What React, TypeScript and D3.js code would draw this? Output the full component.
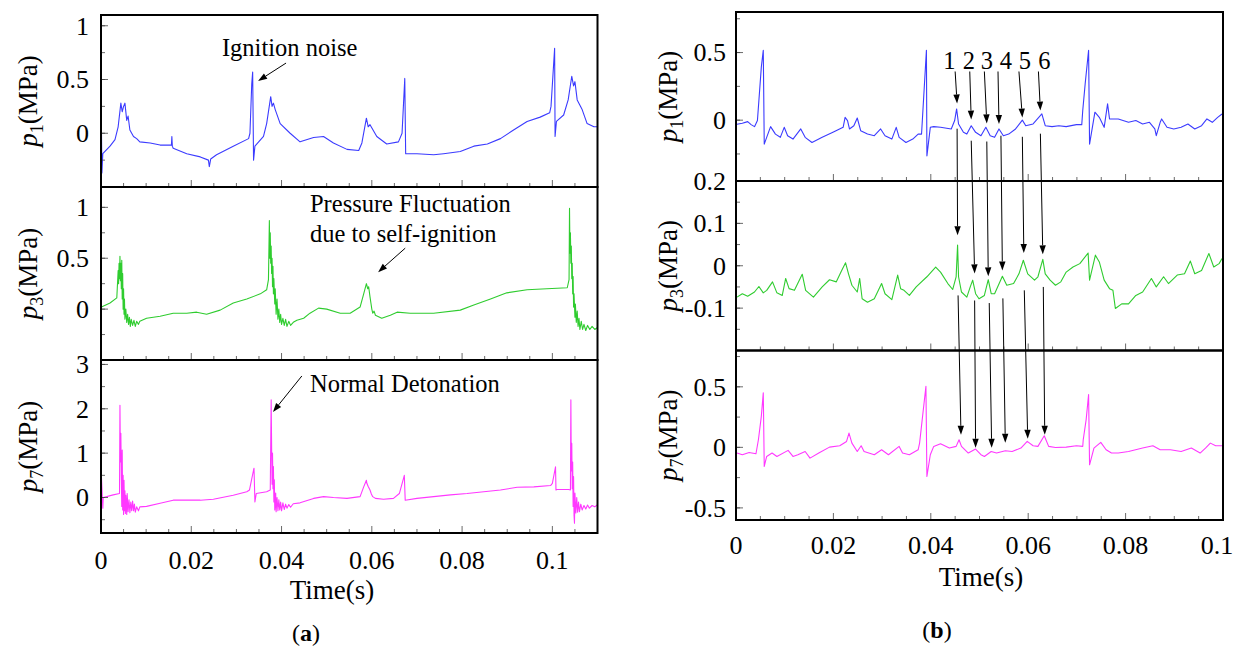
import React, { useEffect } from 'react';
import * as d3 from 'd3';

type Pt = [number, number];

// ---------- (a) left panel series: [time (s), pressure (MPa)] ----------
const p1A: Pt[] = [[0.0000,0.46],[0.0002,-0.37],[0.0004,-0.19],[0.0020,-0.12],[0.0031,-0.06],[0.0038,0.06],[0.0044,0.28],[0.0047,0.20],[0.0050,0.25],[0.0053,0.28],[0.0057,0.12],[0.0060,0.16],[0.0064,0.03],[0.0072,-0.03],[0.0079,-0.05],[0.0086,-0.08],[0.0109,-0.09],[0.0131,-0.11],[0.0156,-0.11],[0.0157,-0.03],[0.0158,-0.12],[0.0160,-0.14],[0.0190,-0.19],[0.0220,-0.22],[0.0238,-0.25],[0.0240,-0.31],[0.0243,-0.24],[0.0256,-0.20],[0.0293,-0.12],[0.0327,-0.05],[0.0330,0],[0.0334,0.46],[0.0336,0.57],[0.0338,-0.25],[0.0341,-0.12],[0.0360,-0.03],[0.0367,0.09],[0.0376,0.34],[0.0379,0.25],[0.0382,0.28],[0.0386,0.22],[0.0397,0.09],[0.0419,0],[0.0441,-0.08],[0.0471,-0.04],[0.0493,-0.03],[0.0515,-0.09],[0.0545,-0.15],[0.0571,-0.16],[0.0578,-0.09],[0.0588,0.14],[0.0592,0.06],[0.0596,0.08],[0.0611,-0.03],[0.0633,-0.10],[0.0659,-0.08],[0.0667,0.0],[0.0673,0.51],[0.0675,-0.19],[0.0700,-0.19],[0.0737,-0.20],[0.0759,-0.19],[0.0796,-0.17],[0.0826,-0.12],[0.0856,-0.10],[0.0885,-0.05],[0.0914,0.03],[0.0944,0.11],[0.0973,0.15],[0.0994,0.19],[0.0997,0.25],[0.1005,0.79],[0.1006,-0.03],[0.1009,0.11],[0.1025,0.17],[0.1035,0.31],[0.1043,0.53],[0.1047,0.44],[0.1050,0.48],[0.1055,0.31],[0.1066,0.22],[0.1077,0.09],[0.1092,0.06],[0.1100,0.06]];

const p3A: Pt[] = [[0.0001,0.02],[0.0020,0.06],[0.0035,0.11],[0.0038,0.38],[0.0039,0.25],[0.0040,0.45],[0.0041,0.3],[0.0042,0.52],[0.0043,0.28],[0.0044,0.45],[0.0045,0.2],[0.0046,0.48],[0.0047,0.1],[0.0048,0.35],[0.0049,0.0],[0.0050,0.2],[0.0051,-0.05],[0.0052,0.1],[0.0053,-0.1],[0.0055,0.0],[0.0057,-0.13],[0.0059,-0.05],[0.0061,-0.15],[0.0063,-0.08],[0.0065,-0.17],[0.0067,-0.1],[0.0070,-0.16],[0.0073,-0.11],[0.0076,-0.17],[0.0079,-0.12],[0.0083,-0.15],[0.0086,-0.12],[0.0101,-0.09],[0.0131,-0.07],[0.0160,-0.04],[0.0190,-0.04],[0.0212,-0.03],[0.0234,-0.05],[0.0264,-0.01],[0.0293,0.06],[0.0323,0.10],[0.0353,0.15],[0.0367,0.19],[0.0371,0.29],[0.0373,0.87],[0.0374,0.5],[0.0375,0.75],[0.0376,0.45],[0.0377,0.62],[0.0378,0.35],[0.0379,0.5],[0.0380,0.22],[0.0381,0.42],[0.0382,0.15],[0.0383,0.30],[0.0385,0.05],[0.0386,0.2],[0.0388,-0.05],[0.0390,0.1],[0.0392,-0.1],[0.0394,0.0],[0.0396,-0.13],[0.0398,-0.05],[0.0400,-0.15],[0.0403,-0.09],[0.0406,-0.16],[0.0409,-0.1],[0.0412,-0.17],[0.0416,-0.12],[0.0420,-0.16],[0.0426,-0.13],[0.0434,-0.11],[0.0449,-0.09],[0.0463,-0.04],[0.0482,0.01],[0.0500,0.0],[0.0530,-0.04],[0.0552,-0.04],[0.0574,0.02],[0.0582,0.15],[0.0588,0.25],[0.0591,0.20],[0.0593,0.22],[0.0596,0.12],[0.0598,0.06],[0.0600,0.0],[0.0602,-0.04],[0.0605,-0.02],[0.0608,-0.06],[0.0622,-0.09],[0.0641,-0.06],[0.0656,-0.03],[0.0685,-0.04],[0.0737,-0.04],[0.0796,-0.01],[0.0826,0.04],[0.0863,0.10],[0.0899,0.16],[0.0944,0.19],[0.0988,0.20],[0.1033,0.21],[0.1037,0.29],[0.1038,0.99],[0.1039,0.55],[0.1040,0.75],[0.1041,0.45],[0.1042,0.62],[0.1043,0.3],[0.1044,0.45],[0.1045,0.15],[0.1046,0.32],[0.1047,0.02],[0.1048,0.15],[0.1050,-0.08],[0.1051,0.05],[0.1053,-0.13],[0.1055,-0.02],[0.1057,-0.17],[0.1059,-0.09],[0.1061,-0.2],[0.1064,-0.12],[0.1067,-0.2],[0.1070,-0.15],[0.1074,-0.21],[0.1078,-0.16],[0.1083,-0.2],[0.1088,-0.17],[0.1094,-0.2],[0.1100,-0.18]];

const p7A: Pt[] = [[0.0001,0.47],[0.0004,-0.24],[0.0005,0.0],[0.0027,0.06],[0.0041,0.09],[0.0042,2.08],[0.0043,0.8],[0.0044,1.45],[0.0045,0.47],[0.0046,-0.2],[0.0047,1.07],[0.0048,-0.28],[0.0049,0.5],[0.0050,-0.38],[0.0051,0.39],[0.0052,-0.3],[0.0053,0.15],[0.0054,-0.36],[0.0055,0.05],[0.0057,-0.38],[0.0058,0.09],[0.0060,-0.32],[0.0062,-0.05],[0.0064,-0.34],[0.0066,-0.1],[0.0068,-0.30],[0.0070,-0.08],[0.0072,-0.30],[0.0074,-0.15],[0.0076,-0.33],[0.0079,-0.21],[0.0083,-0.30],[0.0086,-0.21],[0.0101,-0.20],[0.0131,-0.13],[0.0160,-0.06],[0.0190,-0.06],[0.0220,-0.06],[0.0249,-0.04],[0.0293,0.05],[0.0323,0.13],[0.0329,0.17],[0.0338,0.62],[0.0339,0.66],[0.0341,-0.10],[0.0344,0.09],[0.0367,0.13],[0.0375,0.17],[0.0377,2.20],[0.0378,1.15],[0.0379,0.3],[0.0380,1.0],[0.0381,0.2],[0.0382,0.7],[0.0383,-0.1],[0.0384,0.4],[0.0385,-0.28],[0.0387,0.1],[0.0388,-0.32],[0.0390,0.0],[0.0392,-0.30],[0.0394,-0.05],[0.0396,-0.28],[0.0398,-0.1],[0.0400,-0.30],[0.0403,-0.12],[0.0406,-0.27],[0.0409,-0.15],[0.0412,-0.24],[0.0416,-0.16],[0.0420,-0.22],[0.0426,-0.14],[0.0441,-0.12],[0.0471,-0.02],[0.0493,0.02],[0.0515,0.0],[0.0545,-0.02],[0.0574,0.02],[0.0582,0.24],[0.0588,0.39],[0.0589,0.32],[0.0592,0.25],[0.0596,0.17],[0.0599,0.08],[0.0602,0.02],[0.0608,-0.02],[0.0626,-0.04],[0.0648,-0.02],[0.0661,0.09],[0.0672,0.50],[0.0674,-0.06],[0.0700,-0.02],[0.0737,0.02],[0.0774,0.06],[0.0811,0.09],[0.0848,0.13],[0.0885,0.17],[0.0922,0.23],[0.0959,0.24],[0.0996,0.27],[0.1000,0.32],[0.1007,0.69],[0.1008,0.17],[0.1010,0.18],[0.1036,0.18],[0.1040,0.17],[0.1041,2.20],[0.1042,0.6],[0.1043,1.22],[0.1044,0.2],[0.1045,0.8],[0.1046,-0.2],[0.1047,0.47],[0.1048,-0.4],[0.1049,-0.58],[0.1050,0.1],[0.1052,-0.35],[0.1054,0.0],[0.1056,-0.33],[0.1058,-0.1],[0.1060,-0.32],[0.1063,-0.15],[0.1066,-0.28],[0.1070,-0.18],[0.1074,-0.26],[0.1078,-0.17],[0.1082,-0.24],[0.1088,-0.18],[0.1094,-0.21],[0.1099,-0.17]];

// ---------- (b) right panel series ----------
const p1B: Pt[] = [[0.0002,-0.03],[0.0013,-0.023],[0.0024,-0.011],[0.0031,-0.033],[0.0038,-0.048],[0.0044,-0.003],[0.0047,0.145],[0.0052,0.393],[0.0056,0.517],[0.0058,-0.177],[0.0063,-0.127],[0.0071,-0.048],[0.0081,-0.103],[0.0091,-0.127],[0.0099,-0.053],[0.0106,-0.115],[0.0117,-0.140],[0.0133,-0.065],[0.0142,-0.127],[0.0156,-0.165],[0.0177,-0.127],[0.0199,-0.09],[0.0220,-0.053],[0.0224,0.021],[0.0229,-0.003],[0.0233,-0.065],[0.0242,-0.041],[0.0249,0.016],[0.0256,-0.078],[0.0270,-0.103],[0.0284,-0.115],[0.0297,-0.065],[0.0306,-0.115],[0.0320,-0.140],[0.0329,-0.053],[0.0335,-0.127],[0.0349,-0.165],[0.0363,-0.140],[0.0374,-0.103],[0.0381,-0.103],[0.0391,0.517],[0.0392,-0.264],[0.0399,-0.053],[0.0406,-0.048],[0.0420,-0.053],[0.0442,-0.065],[0.0449,-0.003],[0.0453,0.083],[0.0457,-0.028],[0.0467,-0.09],[0.0474,-0.103],[0.0483,-0.041],[0.0492,-0.09],[0.0503,-0.115],[0.0513,-0.053],[0.0522,-0.115],[0.0531,-0.127],[0.0540,-0.065],[0.0549,-0.115],[0.0560,-0.103],[0.0574,-0.065],[0.0588,0.0],[0.0595,-0.041],[0.0610,-0.028],[0.0628,0.046],[0.0635,-0.041],[0.0649,-0.048],[0.0663,-0.041],[0.0678,-0.048],[0.0699,-0.033],[0.0710,-0.033],[0.0712,0.071],[0.0717,0.269],[0.0724,0.517],[0.0726,-0.177],[0.0737,0.059],[0.0746,0.021],[0.0756,-0.053],[0.0763,0.121],[0.0767,0.009],[0.0785,0.009],[0.0806,-0.016],[0.0821,-0.003],[0.0835,-0.028],[0.0849,-0.016],[0.0860,-0.065],[0.0863,-0.115],[0.0871,-0.016],[0.0874,0.009],[0.0885,-0.053],[0.0899,-0.065],[0.0914,-0.053],[0.0928,-0.028],[0.0942,-0.065],[0.0956,-0.041],[0.0967,0.009],[0.0978,-0.016],[0.0989,0.021],[0.0998,0.046]];

const p3B: Pt[] = [[0.0002,-0.074],[0.0013,-0.066],[0.0024,-0.072],[0.0038,-0.062],[0.0047,-0.049],[0.0056,-0.064],[0.0063,-0.058],[0.0075,-0.038],[0.0084,-0.064],[0.0095,-0.070],[0.0102,-0.030],[0.0109,-0.054],[0.0120,-0.058],[0.0136,-0.020],[0.0143,-0.058],[0.0159,-0.074],[0.0177,-0.050],[0.0192,-0.033],[0.0206,-0.038],[0.0217,-0.011],[0.0225,0.007],[0.0231,-0.019],[0.0238,-0.046],[0.0249,-0.062],[0.0254,-0.030],[0.0259,-0.078],[0.0270,-0.086],[0.0284,-0.078],[0.0299,-0.042],[0.0306,-0.066],[0.0320,-0.080],[0.0332,-0.022],[0.0338,-0.054],[0.0345,-0.058],[0.0356,-0.070],[0.0370,-0.050],[0.0392,-0.026],[0.0410,-0.003],[0.0420,-0.015],[0.0435,-0.042],[0.0445,-0.056],[0.0452,-0.026],[0.0455,0.049],[0.0457,-0.026],[0.0463,-0.062],[0.0474,-0.074],[0.0481,-0.050],[0.0486,-0.034],[0.0492,-0.066],[0.0499,-0.078],[0.0510,-0.070],[0.0518,-0.033],[0.0524,-0.066],[0.0531,-0.066],[0.0547,-0.025],[0.0556,-0.046],[0.0570,-0.042],[0.0581,-0.019],[0.0590,0.013],[0.0599,-0.019],[0.0613,-0.034],[0.0620,-0.026],[0.0630,0.015],[0.0635,-0.019],[0.0645,-0.034],[0.0656,-0.046],[0.0667,-0.038],[0.0678,-0.015],[0.0692,-0.003],[0.0706,0.005],[0.0723,0.030],[0.0726,-0.034],[0.0738,0.025],[0.0746,0.009],[0.0756,-0.034],[0.0767,-0.054],[0.0774,-0.058],[0.0779,-0.101],[0.0792,-0.090],[0.0806,-0.090],[0.0821,-0.070],[0.0835,-0.062],[0.0853,-0.030],[0.0863,-0.050],[0.0878,-0.026],[0.0888,-0.042],[0.0906,-0.022],[0.0921,-0.019],[0.0933,0.011],[0.0942,-0.019],[0.0956,-0.011],[0.0971,0.029],[0.0981,-0.003],[0.0992,0.005],[0.0998,0.017]];

const p7B: Pt[] = [[0.0002,-0.047],[0.0013,-0.061],[0.0027,-0.042],[0.0041,-0.053],[0.0046,0.063],[0.0052,0.256],[0.0056,0.450],[0.0058,-0.158],[0.0063,-0.075],[0.0074,-0.047],[0.0084,-0.075],[0.0107,-0.025],[0.0117,-0.075],[0.0127,-0.061],[0.0142,-0.034],[0.0152,-0.089],[0.0170,-0.047],[0.0192,0.002],[0.0213,0.013],[0.0227,0.049],[0.0232,0.118],[0.0238,0.035],[0.0249,-0.034],[0.0257,0.013],[0.0263,-0.034],[0.0284,-0.061],[0.0299,-0.020],[0.0313,-0.061],[0.0335,0.008],[0.0342,-0.047],[0.0356,-0.061],[0.0374,-0.020],[0.0377,0.035],[0.0390,0.505],[0.0392,-0.241],[0.0399,-0.061],[0.0406,0.008],[0.0420,0.030],[0.0438,-0.006],[0.0452,0.008],[0.0458,0.063],[0.0463,0.008],[0.0477,-0.047],[0.0492,-0.014],[0.0503,-0.061],[0.0510,-0.075],[0.0524,-0.034],[0.0535,-0.047],[0.0553,-0.028],[0.0567,-0.034],[0.0585,-0.006],[0.0598,0.049],[0.0610,0.013],[0.0620,0.008],[0.0633,0.096],[0.0642,0.008],[0.0656,-0.001],[0.0678,0.002],[0.0699,0.013],[0.0712,0.008],[0.0713,0.063],[0.0719,0.229],[0.0724,0.436],[0.0726,-0.144],[0.0735,-0.006],[0.0749,0.041],[0.0760,-0.020],[0.0771,-0.047],[0.0785,-0.047],[0.0806,-0.034],[0.0835,-0.006],[0.0856,0.013],[0.0871,-0.020],[0.0892,-0.020],[0.0914,-0.034],[0.0935,-0.006],[0.0953,-0.047],[0.0964,-0.006],[0.0974,0.035],[0.0985,0.013],[0.0998,0.013]];

// ---------- tick labels ----------
const xTicksA = [0, 0.02, 0.04, 0.06, 0.08, 0.1];
const xTickLabelsA = ['0', '0.02', '0.04', '0.06', '0.08', '0.1'];
const xTicksB = [0, 0.02, 0.04, 0.06, 0.08, 0.1];
const xTickLabelsB = ['0', '0.02', '0.04', '0.06', '0.08', '0.1'];

const yTicksA1 = [0, 0.5, 1]; const yLabA1 = ['0', '0.5', '1'];
const yTicksA3 = [0, 0.5, 1]; const yLabA3 = ['0', '0.5', '1'];
const yTicksA7 = [0, 1, 2, 3]; const yLabA7 = ['0', '1', '2', '3'];
const yTicksB1 = [0, 0.5]; const yLabB1 = ['0', '0.5'];
const yTicksB3 = [-0.1, 0, 0.1, 0.2]; const yLabB3 = ['-0.1', '0', '0.1', '0.2'];
const yTicksB7 = [-0.5, 0, 0.5]; const yLabB7 = ['-0.5', '0', '0.5'];

// ---------- annotations (data units) ----------
const peakLabels = ['1', '2', '3', '4', '5', '6'];
const peakLabelT = [0.0438, 0.0478, 0.0515, 0.0554, 0.0593, 0.0633];
const peakLabelV = 0.443;
const arrowAFromT = [0.0450, 0.0480, 0.0510, 0.0538, 0.0581, 0.0621];
const arrowAFromV = 0.36;
const arrowAToT = [0.0454, 0.0483, 0.0515, 0.0540, 0.0588, 0.0625];
const arrowAToV = [0.123, 0.004, -0.024, -0.028, 0.019, 0.071];
const arrowBFromT = [0.0454, 0.0483, 0.0515, 0.0544, 0.0588, 0.0625];
const arrowBFromV = [-0.063, -0.152, -0.158, -0.115, -0.123, -0.100];
const arrowBToT = [0.0455, 0.0490, 0.0518, 0.0547, 0.0591, 0.0630];
const arrowBToV = [0.072, -0.018, -0.025, -0.011, 0.030, 0.027];
const arrowCFromT = [0.0456, 0.0490, 0.0520, 0.0548, 0.0592, 0.0631];
const arrowCFromV = [-0.070, -0.082, -0.088, -0.077, -0.058, -0.050];
const arrowCToT = [0.0462, 0.0492, 0.0525, 0.0553, 0.0599, 0.0634];
const arrowCToV = [0.104, -0.003, -0.003, 0.038, 0.071, 0.104];

const FONT = "'Liberation Serif', 'Times New Roman', 'DejaVu Serif', serif";
const W = 1236, H = 647;

interface Panel {
  data: Pt[]; color: string; top: number; bottom: number;
  yDomain: [number, number]; yTicks: number[]; yLabels: string[]; minorStep: number;
  sub: string;
}

const xA = d3.scaleLinear().domain([0, 0.11]).range([101, 597.5]);
const xB = d3.scaleLinear().domain([0, 0.1]).range([736, 1223]);

const panelsA: Panel[] = [
  { data: p1A, color: '#3b3bff', top: 15, bottom: 187, yDomain: [-0.5, 1.1], yTicks: yTicksA1, yLabels: yLabA1, minorStep: 0.25, sub: '1' },
  { data: p3A, color: '#2fcc2f', top: 187, bottom: 360, yDomain: [-0.5, 1.2], yTicks: yTicksA3, yLabels: yLabA3, minorStep: 0.25, sub: '3' },
  { data: p7A, color: '#ff38ff', top: 360, bottom: 533, yDomain: [-0.8, 3.1], yTicks: yTicksA7, yLabels: yLabA7, minorStep: 0.5, sub: '7' },
];
const panelsB: Panel[] = [
  { data: p1B, color: '#3b3bff', top: 12, bottom: 181, yDomain: [-0.45, 0.8], yTicks: yTicksB1, yLabels: yLabB1, minorStep: 0.25, sub: '1' },
  { data: p3B, color: '#2fcc2f', top: 181, bottom: 350.5, yDomain: [-0.2, 0.2], yTicks: yTicksB3, yLabels: yLabB3, minorStep: 0.05, sub: '3' },
  { data: p7B, color: '#ff38ff', top: 350.5, bottom: 520, yDomain: [-0.6, 0.8], yTicks: yTicksB7, yLabels: yLabB7, minorStep: 0.25, sub: '7' },
];

const yScale = (p: Panel) => d3.scaleLinear().domain(p.yDomain).range([p.bottom, p.top]);

function Arrow({ x1, y1, x2, y2 }: { x1: number; y1: number; x2: number; y2: number }) {
  const ang = Math.atan2(y2 - y1, x2 - x1);
  const L = 9, Wd = 3.2;
  const bx = x2 - L * Math.cos(ang), by = y2 - L * Math.sin(ang);
  const px = -Math.sin(ang) * Wd, py = Math.cos(ang) * Wd;
  return (
    <g>
      <line x1={x1} y1={y1} x2={bx} y2={by} stroke="#000" strokeWidth={1} />
      <polygon points={`${x2},${y2} ${bx + px},${by + py} ${bx - px},${by - py}`} fill="#000" />
    </g>
  );
}

function PanelView({ p, x, idx, side, labelX, titleX }: { p: Panel; x: d3.ScaleLinear<number, number>; idx: number; side: string; labelX: number; titleX: number }) {
  const y = yScale(p);
  const [x0, x1] = x.range();
  const line = d3.line<Pt>().x(d => x(d[0])).y(d => y(d[1]));
  const minorY = d3.range(Math.ceil(p.yDomain[0] / p.minorStep) * p.minorStep, p.yDomain[1] + 1e-9, p.minorStep)
    .filter(v => y(v) > p.top + 2 && y(v) < p.bottom - 2);
  const xMinor = d3.range(0, x.domain()[1] + 1e-9, 0.005);
  const clipId = `clip-${side}-${idx}`;
  const cy = (p.top + p.bottom) / 2;
  return (
    <g>
      <clipPath id={clipId}><rect x={x0} y={p.top} width={x1 - x0} height={p.bottom - p.top} /></clipPath>
      <path d={line(p.data) || ''} fill="none" stroke={p.color} strokeWidth={1.1} strokeLinejoin="round" clipPath={`url(#${clipId})`} />
      {minorY.map((v, i) => (
        <line key={'my' + i} x1={x0} x2={x0 + 4} y1={y(v)} y2={y(v)} stroke="#444" strokeWidth={0.8} />
      ))}
      {p.yTicks.map((v, i) => (
        <g key={'yt' + i}>
          <line x1={x0} x2={x0 + 7} y1={y(v)} y2={y(v)} stroke="#444" strokeWidth={0.8} />
          <text x={labelX} y={y(v)} dy="0.34em" textAnchor="end" fontFamily={FONT} fontSize={26} fill="#000">{p.yLabels[i]}</text>
        </g>
      ))}
      {xMinor.map((v, i) => {
        const major = Math.abs(v / 0.02 - Math.round(v / 0.02)) < 1e-6;
        return <line key={'xt' + i} x1={x(v)} x2={x(v)} y1={p.bottom} y2={p.bottom - (major ? 7 : 4)} stroke="#444" strokeWidth={0.8} />;
      })}
      <rect x={x0} y={p.top} width={x1 - x0} height={p.bottom - p.top} fill="none" stroke="#000" strokeWidth={2} />
      <text transform={`translate(${titleX},${cy}) rotate(-90)`} textAnchor="middle" dy="0.35em" fontFamily={FONT} fontSize={27} fill="#000">
        <tspan fontStyle="italic">p</tspan>
        <tspan fontSize={18} dy={6}>{p.sub}</tspan>
        <tspan dy={-6}>(MPa)</tspan>
      </text>
    </g>
  );
}

export default function App() {
  useEffect(() => { document.body.style.margin = '0'; }, []);
  const [a1, a3, a7] = panelsA.map(yScale);
  const [b1, b3, b7] = panelsB.map(yScale);
  const txt = { fontFamily: FONT, fill: '#000' } as const;
  return (
    <svg width={W} height={H} viewBox={`0 0 ${W} ${H}`} style={{ position: 'absolute', left: 0, top: 0, background: '#fff' }}>
      <rect width={W} height={H} fill="#fff" />
      {panelsA.map((p, i) => <PanelView key={'a' + i} p={p} x={xA} idx={i} side="a" labelX={89} titleX={28} />)}
      {panelsB.map((p, i) => <PanelView key={'b' + i} p={p} x={xB} idx={i} side="b" labelX={726} titleX={668} />)}

      {xTicksA.map((v, i) => (
        <text key={'xla' + i} x={xA(v)} y={560} dy="0.35em" textAnchor="middle" fontSize={26} {...txt}>{xTickLabelsA[i]}</text>
      ))}
      {xTicksB.map((v, i) => (
        <text key={'xlb' + i} x={Math.min(xB(v), W - 19)} y={545} dy="0.35em" textAnchor="middle" fontSize={26} {...txt}>{xTickLabelsB[i]}</text>
      ))}
      <text x={332} y={590} dy="0.35em" textAnchor="middle" fontSize={27} {...txt}>Time(s)</text>
      <text x={981} y={577} dy="0.35em" textAnchor="middle" fontSize={27} {...txt}>Time(s)</text>
      <text x={306} y={633} dy="0.35em" textAnchor="middle" fontSize={24} {...txt}>(<tspan fontWeight="bold">a</tspan>)</text>
      <text x={937} y={630} dy="0.35em" textAnchor="middle" fontSize={24} {...txt}>(<tspan fontWeight="bold">b</tspan>)</text>

      <text x={xA(0.0268)} y={a1(0.80)} dy="0.35em" fontSize={24.5} {...txt}>Ignition noise</text>
      <Arrow x1={xA(0.0410)} y1={a1(0.653)} x2={xA(0.0348)} y2={a1(0.486)} />
      <text x={xA(0.0463)} y={a3(1.04)} dy="0.35em" fontSize={24.5} {...txt}>Pressure Fluctuation</text>
      <text x={xA(0.0463)} y={a3(0.747)} dy="0.35em" fontSize={24.5} {...txt}>due to self-ignition</text>
      <Arrow x1={xA(0.0674)} y1={a3(0.599)} x2={xA(0.0614)} y2={a3(0.363)} />
      <text x={xA(0.0463)} y={a7(2.58)} dy="0.35em" fontSize={24.5} {...txt}>Normal Detonation</text>
      <Arrow x1={xA(0.0445)} y1={a7(2.74)} x2={xA(0.0381)} y2={a7(1.93)} />

      {peakLabels.map((s, i) => (
        <g key={'pk' + i}>
          <text x={xB(peakLabelT[i])} y={b1(peakLabelV)} dy="0.35em" textAnchor="middle" fontSize={24.5} {...txt}>{s}</text>
          <Arrow x1={xB(arrowAFromT[i])} y1={b1(arrowAFromV)} x2={xB(arrowAToT[i])} y2={b1(arrowAToV[i])} />
          <Arrow x1={xB(arrowBFromT[i])} y1={b1(arrowBFromV[i])} x2={xB(arrowBToT[i])} y2={b3(arrowBToV[i])} />
          <Arrow x1={xB(arrowCFromT[i])} y1={b3(arrowCFromV[i])} x2={xB(arrowCToT[i])} y2={b7(arrowCToV[i])} />
        </g>
      ))}
    </svg>
  );
}
